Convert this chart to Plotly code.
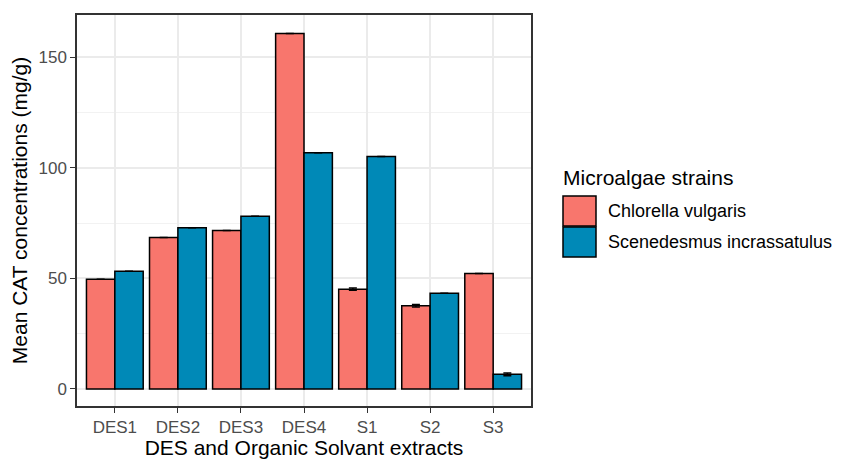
import plotly.graph_objects as go

categories = ["DES1", "DES2", "DES3", "DES4", "S1", "S2", "S3"]
chlorella = [49.6, 68.5, 71.6, 160.6, 45.1, 37.6, 52.2]
chlorella_err = [0, 0, 0, 0, 0.5, 0.6, 0]
scenedesmus = [53.2, 72.8, 78.0, 106.8, 105.0, 43.3, 6.6]
scenedesmus_err = [0, 0, 0, 0, 0, 0, 0.6]
series_names = ["Chlorella vulgaris", "Scenedesmus incrassatulus"]
colors = ["#F8766D", "#0089B7"]

fig = go.Figure()
for vals, errs, name, col in [(chlorella, chlorella_err, series_names[0], colors[0]),
                              (scenedesmus, scenedesmus_err, series_names[1], colors[1])]:
    fig.add_trace(go.Bar(
        x=categories, y=vals, name=name,
        marker=dict(color=col, line=dict(color="black", width=1.5)),
        error_y=dict(type="data", array=errs, visible=True, color="black", thickness=1.5, width=4),
        showlegend=False,
    ))

font = "Liberation Sans, Arial, sans-serif"
fig.update_layout(
    width=841, height=459,
    margin=dict(l=77, r=310, t=15, b=53),
    paper_bgcolor="white", plot_bgcolor="white",
    barmode="group", bargap=0.1, bargroupgap=0,
    font=dict(family=font, color="black"),
    xaxis=dict(
        range=[-0.6, 6.6], showgrid=True, gridcolor="#EBEBEB", gridwidth=1.5,
        ticks="outside", ticklen=5, tickcolor="#333333", tickwidth=1.2,
        tickfont=dict(size=17, color="#4D4D4D"), automargin=False,
        showline=True, linecolor="#333333", linewidth=1.5, mirror=True,
        title=dict(text="DES and Organic Solvant extracts", font=dict(size=21, color="black"), standoff=0),
    ),
    yaxis=dict(
        range=[-7.7, 169], tickvals=[0, 50, 100, 150], showgrid=True, gridcolor="#EBEBEB", gridwidth=1.5,
        minor=dict(tickvals=[25, 75, 125], showgrid=True, gridcolor="#F2F2F2", gridwidth=1),
        ticks="outside", ticklen=5, tickcolor="#333333", tickwidth=1.2,
        tickfont=dict(size=17, color="#4D4D4D"), zeroline=False, automargin=False,
        showline=True, linecolor="#333333", linewidth=1.5, mirror=True,
        title=dict(text="Mean CAT concentrations (mg/g)", font=dict(size=21, color="black"), standoff=5),
    ),
)

# Legend (drawn in paper coordinates)
W, H = 841, 459
def px(x): return (x - 77) / (531 - 77)
def py(y): return (H - 53 - y) / (H - 15 - 53)

fig.add_annotation(x=px(561), y=py(177), xref="paper", yref="paper", text="Microalgae strains",
                   showarrow=False, xanchor="left", yanchor="middle", font=dict(size=21, color="black"))
for i, (name, col) in enumerate(zip(series_names, colors)):
    y0 = 196 + i * 31
    fig.add_shape(type="rect", xref="paper", yref="paper",
                  x0=px(563), x1=px(596), y0=py(y0), y1=py(y0 + 30),
                  fillcolor=col, line=dict(color="black", width=1.5))
    fig.add_annotation(x=px(606), y=py(y0 + 15), xref="paper", yref="paper", text=name,
                       showarrow=False, xanchor="left", yanchor="middle", font=dict(size=18, color="black"))

fig.write_html("out.html", config={"displayModeBar": False},
               post_script="document.body.style.margin='0';document.body.style.padding='0';")
